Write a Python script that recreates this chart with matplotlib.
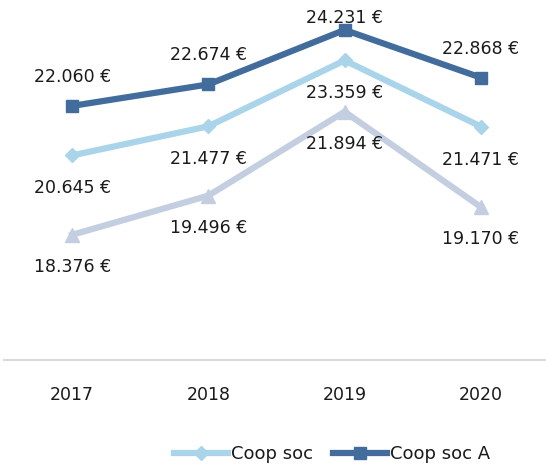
import matplotlib
matplotlib.use('Agg')
import matplotlib.pyplot as plt

## data
years = ['2017', '2018', '2019', '2020']
coop_soc_a = [22060, 22674, 24231, 22868]
coop_soc = [20645, 21477, 23359, 21471]
other = [18376, 19496, 21894, 19170]

def eur(v):
    return '{:,} €'.format(v).replace(',', '.')

plt.rcParams['font.family'] = ['DejaVu Sans']

fig = plt.figure(figsize=(5.46, 4.65), dpi=100)
ax = fig.add_axes([4/546, 1 - 360/465, 545/546, 357/465])

x = range(len(years))

## lines
ax.plot(x, other, color='#c3cfe0', lw=4.5, marker='^', ms=10, label='_nolegend_')
ax.plot(x, coop_soc, color='#a9d4ea', lw=4.5, marker='D', ms=7, label='Coop soc')
ax.plot(x, coop_soc_a, color='#426c9c', lw=4.5, marker='s', ms=9, label='Coop soc A')

## value labels
fs = 12.5
for i, v in enumerate(coop_soc_a):
    off = 12 if i == 2 else 29
    ax.annotate(eur(v), (i, v), xytext=(0, off * 0.72), textcoords='offset points',
                ha='center', va='center', fontsize=fs, color='#1a1a1a')
for i, v in enumerate(coop_soc):
    ax.annotate(eur(v), (i, v), xytext=(0, -33 * 0.72), textcoords='offset points',
                ha='center', va='center', fontsize=fs, color='#1a1a1a')
for i, v in enumerate(other):
    ax.annotate(eur(v), (i, v), xytext=(0, -32 * 0.72), textcoords='offset points',
                ha='center', va='center', fontsize=fs, color='#1a1a1a')

ax.set_xlim(-0.5, 3.5)
ax.set_ylim(14800, 25000)
ax.set_xticks(list(x))
ax.set_xticklabels(years, fontsize=12.5, color='#1a1a1a')
ax.tick_params(axis='x', length=0, pad=19)
ax.set_yticks([])

for s in ['top', 'right', 'left']:
    ax.spines[s].set_visible(False)
ax.spines['bottom'].set_color('#d9d9d9')
ax.spines['bottom'].set_linewidth(1.5)

fig.legend(loc='center left', bbox_to_anchor=(158/546, 1 - 454/465), ncol=2,
           frameon=False, fontsize=13, handlelength=3.0, columnspacing=1.1,
           handletextpad=0.15, labelcolor='#1a1a1a')

fig.savefig('out.png', dpi=100)
